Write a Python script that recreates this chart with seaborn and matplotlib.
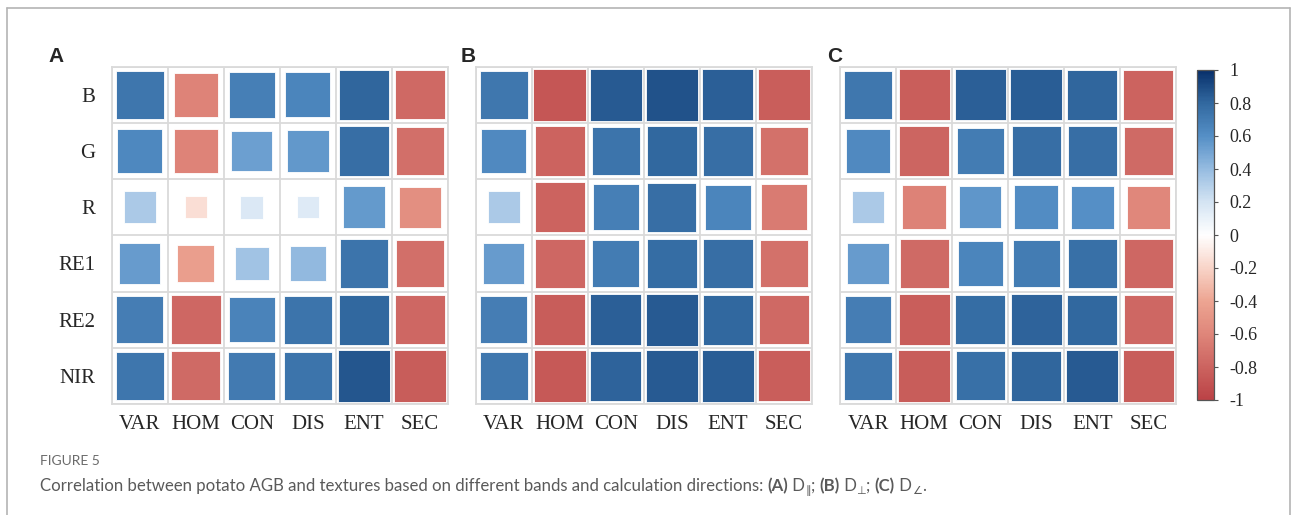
import numpy as np
import pandas as pd
import matplotlib
matplotlib.use("Agg")
import matplotlib.pyplot as plt
import seaborn as sns
from matplotlib.colors import LinearSegmentedColormap, Normalize
from matplotlib.cm import ScalarMappable
from matplotlib.lines import Line2D

# ---- data -------------------------------------------------------------
bands = ["B", "G", "R", "RE1", "RE2", "NIR"]
textures = ["VAR", "HOM", "CON", "DIS", "ENT", "SEC"]

# correlation of AGB with each texture (rows = bands, cols = textures)
r_parallel = [
    [0.73, -0.61, 0.68, 0.65, 0.81, -0.77],
    [0.64, -0.61, 0.53, 0.56, 0.77, -0.73],
    [0.33, -0.15, 0.17, 0.15, 0.55, -0.54],
    [0.54, -0.44, 0.36, 0.41, 0.74, -0.73],
    [0.69, -0.78, 0.66, 0.74, 0.80, -0.78],
    [0.73, -0.76, 0.71, 0.74, 0.86, -0.84],
]
r_perpendicular = [
    [0.72, -0.88, 0.85, 0.88, 0.83, -0.83],
    [0.63, -0.80, 0.74, 0.80, 0.77, -0.72],
    [0.33, -0.80, 0.68, 0.77, 0.65, -0.66],
    [0.54, -0.78, 0.70, 0.78, 0.77, -0.72],
    [0.69, -0.84, 0.83, 0.85, 0.80, -0.77],
    [0.72, -0.86, 0.82, 0.85, 0.84, -0.83],
]
r_diagonal = [
    [0.72, -0.83, 0.83, 0.84, 0.81, -0.80],
    [0.63, -0.79, 0.70, 0.77, 0.77, -0.76],
    [0.33, -0.62, 0.57, 0.61, 0.60, -0.59],
    [0.54, -0.76, 0.65, 0.70, 0.76, -0.78],
    [0.69, -0.83, 0.78, 0.82, 0.80, -0.78],
    [0.72, -0.84, 0.76, 0.81, 0.85, -0.84],
]
panel_letters = ["A", "B", "C"]
cbar_ticks = [-1, -0.8, -0.6, -0.4, -0.2, 0, 0.2, 0.4, 0.6, 0.8, 1]
cbar_labels = ["-1", "-0.8", "-0.6", "-0.4", "-0.2", "0", "0.2", "0.4", "0.6", "0.8", "1"]

# diverging red-white-blue palette
cmap_stops = [0.0, 0.1, 0.2, 0.3, 0.4, 0.5, 0.6, 0.7, 0.8, 0.9, 1.0]
cmap_colors = ["#bb4246", "#cc6460", "#df867a", "#eda592", "#f8d4c8", "#ffffff",
               "#d4e4f3", "#96bce1", "#558fc6", "#3269a0", "#08306b"]
corr_cmap = LinearSegmentedColormap.from_list("corr", list(zip(cmap_stops, cmap_colors)))

# ---- figure -----------------------------------------------------------
sns.set_style("white")
plt.rcParams["font.family"] = ["Liberation Serif", "DejaVu Serif"]

W, H = 1293, 515
fig = plt.figure(figsize=(W / 100, H / 100), dpi=100)

panel_left = [111.7, 475.7, 840.0]
panel_w = 336.3
panel_top, panel_bottom = 66.7, 404.0
grid_color = "#dadada"

cell_pts = panel_w / 100 * 72 / 6
size_max = cell_pts ** 2

for k, (mat, letter) in enumerate(zip([r_parallel, r_perpendicular, r_diagonal], panel_letters)):
    ax = fig.add_axes([panel_left[k] / W, 1 - panel_bottom / H,
                       panel_w / W, (panel_bottom - panel_top) / H])
    rows = []
    for i, band in enumerate(bands):
        for j, tex in enumerate(textures):
            rows.append({"col": j, "row": i, "r": mat[i][j], "absr": abs(mat[i][j])})
    df = pd.DataFrame(rows)

    # square area proportional to |r|, colour by r
    sns.scatterplot(data=df, x="col", y="row", hue="r", palette=corr_cmap,
                    hue_norm=(-1, 1), size="absr", sizes=(0, size_max),
                    size_norm=(0, 1), marker="s", edgecolor="white",
                    linewidth=0.6, legend=False, ax=ax, zorder=3)

    ax.set_xlim(-0.5, 5.5)
    ax.set_ylim(5.5, -0.5)
    ax.set_xticks(range(6))
    ax.set_xticklabels(textures, fontsize=15)
    if k == 0:
        ax.set_yticks(range(6))
        ax.set_yticklabels(bands, fontsize=15)
    else:
        ax.set_yticks([])
    ax.set_xticks(np.arange(-0.5, 6, 1), minor=True)
    ax.set_yticks(np.arange(-0.5, 6, 1), minor=True)
    ax.grid(which="minor", color=grid_color, linewidth=1.3)
    ax.grid(which="major", visible=False)
    ax.tick_params(which="both", length=0)
    ax.tick_params(axis="x", pad=8)
    ax.tick_params(axis="y", pad=12)
    ax.set_xlabel("")
    ax.set_ylabel("")
    for sp in ax.spines.values():
        sp.set_color(grid_color)
        sp.set_linewidth(1.3)
    ax.set_axisbelow(True)

    letter_x = [48, 460.5, 827][k]
    fig.text(letter_x / W, 1 - 62 / H, letter, fontsize=15, fontweight="bold",
             family=["Liberation Sans", "DejaVu Sans"], va="baseline", ha="left")

# colour bar
cax = fig.add_axes([1197 / W, 1 - 400 / H, 17 / W, 330 / H])
cb = fig.colorbar(ScalarMappable(norm=Normalize(-1, 1), cmap=corr_cmap), cax=cax)
cb.set_ticks(cbar_ticks)
cb.set_ticklabels(cbar_labels)
cb.ax.tick_params(length=3, width=0.8, color="#555555", labelsize=13, pad=8)
cb.outline.set_edgecolor("#555555")
cb.outline.set_linewidth(0.9)

# frame around the figure
frame_c = "#b4b4b4"
fig.add_artist(Line2D([7 / W, 1290 / W], [1 - 7.5 / H, 1 - 7.5 / H], color=frame_c, lw=1.2))
fig.add_artist(Line2D([7 / W, 7 / W], [0, 1 - 7.5 / H], color=frame_c, lw=1.2))
fig.add_artist(Line2D([1290 / W, 1290 / W], [0, 1 - 7.5 / H], color=frame_c, lw=1.2))

# caption
cap_font = ["Lato", "DejaVu Sans"]
cap_color = "#5a5a5a"
fig.text(40 / W, 1 - 465 / H, "FIGURE 5", fontsize=10, family=cap_font,
         color="#6b6b6b", va="baseline")

pieces = [
    ("Correlation between potato AGB and textures based on different bands and calculation directions: ", "normal", False),
    ("(A)", "bold", False), (" D", "normal", False), ("\u2225", "normal", True),
    ("; ", "normal", False),
    ("(B)", "bold", False), (" D", "normal", False), ("\u22a5", "normal", True),
    ("; ", "normal", False),
    ("(C)", "bold", False), (" D", "normal", False), ("\u2220", "normal", True),
    (".", "normal", False),
]
renderer = fig.canvas.get_renderer()
x = 40.0
base_y = 491.0
for txt, weight, sub in pieces:
    fs = 8 if sub else 12.1
    y = base_y + (3 if sub else 0)
    t = fig.text(x / W, 1 - y / H, txt, fontsize=fs, fontweight=weight,
                 family=cap_font, color=cap_color, va="baseline", ha="left")
    bb = t.get_window_extent(renderer=renderer)
    x += bb.width

fig.savefig("out.png", dpi=100)
